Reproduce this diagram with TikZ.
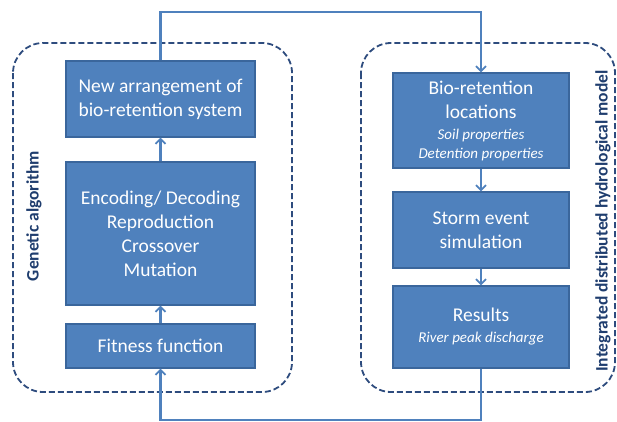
\documentclass[tikz,border=0pt]{standalone}
\usepackage{fontspec}
\setmainfont{Carlito}
\usetikzlibrary{arrows.meta}

\definecolor{boxblue}{HTML}{4F81BD}
\definecolor{boxedge}{HTML}{3A669C}
\definecolor{frameblue}{HTML}{2E4C7E}
\definecolor{labelblue}{HTML}{1F3D6E}

\tikzset{
    stage/.style={rectangle, fill=boxblue, draw=boxedge, line width=1.2pt,
        text=white, align=center, inner sep=0pt,
        font=\fontsize{19.5}{24}\selectfont},
    frame/.style={draw=frameblue, line width=1.8pt, dash pattern=on 6pt off 3pt,
        rounded corners=30pt},
    link/.style={draw=boxblue, line width=2.4pt,
        -{Straight Barb[length=5pt,width=10pt,line width=1.8pt]}},
    sidelabel/.style={text=labelblue, font=\fontsize{17.5}{20}\selectfont\bfseries,
        rotate=90}
}
\newcommand{\subline}[1]{{\fontsize{15}{19}\selectfont\itshape #1}}

\begin{document}
\begin{tikzpicture}[x=1pt, y=-1pt]
        \useasboundingbox (0,0) rectangle (617,421);

        % dashed frames
        \draw[frame] (13,43) rectangle (292,392);
        \draw[frame] (361,43) rectangle (615,392);

        \node[sidelabel] (galabel) at (34,216) {Genetic algorithm};
        \node[sidelabel] (hmlabel) at (603,221) {Integrated distributed hydrological model};

        % genetic algorithm stages
        \node[stage, minimum width=189pt, minimum height=76pt] (arrange) at (160.5,99)
            {New arrangement of\\bio-retention system};
        \node[stage, minimum width=189pt, minimum height=143pt] (operators) at (160.5,233.5)
            {Encoding/ Decoding\\Reproduction\\Crossover\\Mutation};
        \node[stage, minimum width=189pt, minimum height=44pt] (fitness) at (160.5,346)
            {Fitness function};

        % hydrological model stages
        \node[stage, minimum width=176pt, minimum height=95pt] (locations) at (481,120.5)
            {Bio-retention\\locations\\[-3pt]\subline{Soil properties}\\[-5pt]\subline{Detention properties}};
        \node[stage, minimum width=176pt, minimum height=76pt] (storm) at (481,230)
            {Storm event\\simulation};
        \node[stage, minimum width=176pt, minimum height=82pt] (results) at (481,327)
            {Results\\[-3pt]\subline{River peak discharge}};

        \coordinate (topturn) at (300,12);
        \coordinate (botturn) at (300,420);

        \draw[link] (operators) -- (arrange);
        \draw[link] (fitness) -- (operators);
        \draw[link] (locations) -- (storm);
        \draw[link] (storm) -- (results);
        \draw[link] (arrange.north) |- (topturn) -| (locations.north);
        \draw[link] (results.south) |- (botturn) -| (fitness.south);
    \end{tikzpicture}
\end{document}
